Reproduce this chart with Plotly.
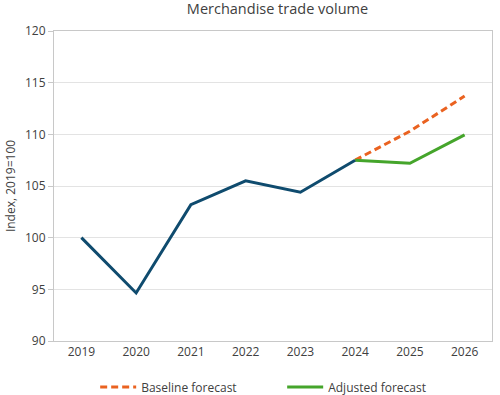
import plotly.graph_objects as go

years = ["2019", "2020", "2021", "2022", "2023", "2024", "2025", "2026"]
actual_years = ["2019", "2020", "2021", "2022", "2023", "2024"]
actual_values = [100.0, 94.65, 103.2, 105.5, 104.4, 107.5]
forecast_years = ["2024", "2025", "2026"]
baseline_values = [107.5, 110.3, 113.7]
adjusted_values = [107.5, 107.2, 109.95]

fig = go.Figure()
fig.add_trace(go.Scatter(x=forecast_years, y=baseline_values, mode="lines",
                         name="Baseline forecast",
                         line=dict(color="#EA6220", width=3, dash="7px,4px")))
fig.add_trace(go.Scatter(x=forecast_years, y=adjusted_values, mode="lines",
                         name="Adjusted forecast",
                         line=dict(color="#45A52B", width=3)))
fig.add_trace(go.Scatter(x=actual_years, y=actual_values, mode="lines",
                         name="Actual", showlegend=False,
                         line=dict(color="#0F4B6E", width=3)))

fig.update_layout(
    width=500, height=395,
    margin=dict(l=54, r=8, t=31, b=54, autoexpand=False),
    paper_bgcolor="white", plot_bgcolor="white",
    font=dict(family="Open Sans, Lato, sans-serif", color="#595959", size=12),
    title=dict(text="Merchandise trade volume", x=0.555, xanchor="center",
               y=0.978, yanchor="middle",
               font=dict(size=14.5, color="#404040")),
    showlegend=True,
    legend=dict(orientation="h", x=0.094, xanchor="left", y=-0.148, yanchor="middle",
                font=dict(size=12, color="#404040"), traceorder="normal",
                itemwidth=36, entrywidthmode="pixels", entrywidth=136),
)
fig.update_xaxes(type="category", categoryorder="array", categoryarray=years,
                 range=[-0.5, 7.5], showgrid=False, showline=True, automargin=False,
                 linecolor="#C8C8C8", linewidth=1, mirror=True, ticks="",
                 tickfont=dict(size=12, color="#404040"))
fig.update_yaxes(range=[90, 120], dtick=5, showgrid=True, gridcolor="#E3E3E3",
                 gridwidth=1, showline=True, linecolor="#C8C8C8", linewidth=1,
                 mirror=True, ticks="outside", ticklen=5, tickcolor="#C8C8C8",
                 zeroline=False, automargin=False,
                 tickfont=dict(size=12, color="#404040"),
                 title=dict(text="Index, 2019=100", standoff=6,
                            font=dict(size=12, color="#404040")))

fig.write_html("out.html", config={"displayModeBar": False},
               post_script="document.body.style.margin='0';document.body.style.overflow='hidden';")
